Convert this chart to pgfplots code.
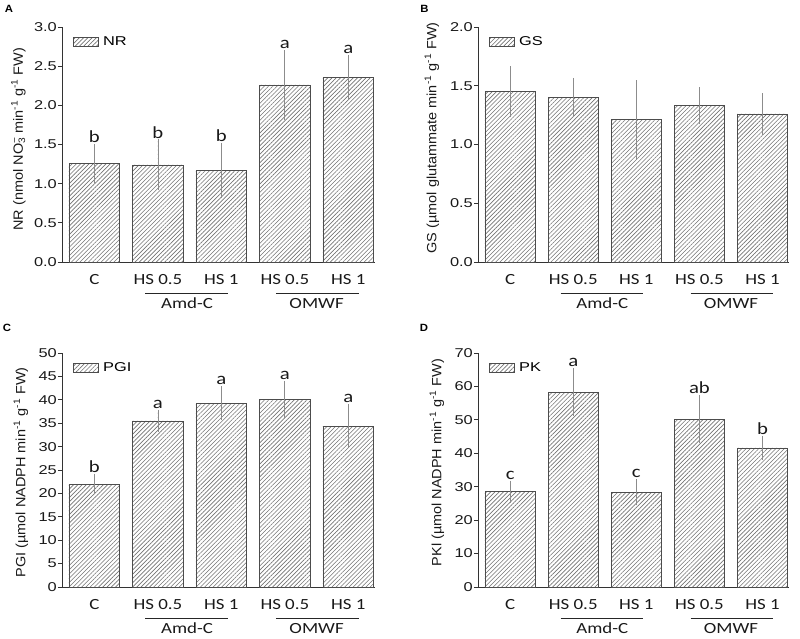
\documentclass[border=0pt]{standalone}
\usepackage{fontspec}
\setmainfont{Liberation Sans}
\newfontfamily\tickfam{Liberation Sans}[FakeStretch=1.28]
\newfontfamily\labfam{Liberation Sans}[FakeStretch=1.08]
\newfontfamily\calfam{Carlito}[FakeStretch=1.22]
\usepackage{pgfplots}
\usepackage{pgfplotstable}
\pgfplotsset{compat=1.18}
\usetikzlibrary{patterns.meta}

\newcommand\tickfont{\tickfam\fontsize{12.8}{14}\selectfont}
\newcommand\legfont{\tickfam\fontsize{12.8}{14}\selectfont}
\newcommand\labfont{\labfam\fontsize{13.4}{15}\selectfont}
\newcommand\catfont{\calfam\fontsize{15.5}{17}\selectfont}
\newcommand\letfont{\calfam\fontsize{17}{19}\selectfont}
\newcommand\panfont{\labfam\bfseries\fontsize{10.5}{12}\selectfont}
\newcommand\mi{\textsuperscript{-1}}

\pgfplotstableread{
x y err lab top
0 1.26 0.22 b 1.48
1 1.24 0.30 b 1.54
2 1.17 0.33 b 1.50
3 2.26 0.42 a 2.68
4 2.36 0.26 a 2.62
}\tabA
\pgfplotstableread{
x y err
0 1.45 0.20
1 1.40 0.15
2 1.21 0.32
3 1.33 0.14
4 1.26 0.16
}\tabB
\pgfplotstableread{
x y err lab top
0 22.0 1.8 b 23.8
1 35.5 1.9 a 37.4
2 39.3 3.2 a 42.5
3 40.1 3.5 a 43.6
4 34.4 4.3 a 38.7
}\tabC
\pgfplotstableread{
x y err lab top
0 28.5 2.7 c 31.2
1 58.3 6.6 a 64.9
2 28.4 3.3 c 31.7
3 50.2 6.6 ab 56.8
4 41.6 3.0 b 44.6
}\tabD

\pgfplotsset{
  panel/.style={
    scale only axis, anchor=south west,
    xmin=-0.51, xmax=4.42, ymin=0,
    axis x line*=bottom, axis y line*=left,
    x axis line style={-}, y axis line style={-},
    axis line style={draw=black!80, line width=0.8pt},
    xtick={0,1,2,3,4}, xticklabels={C,HS 0.5,HS 1,HS 0.5,HS 1},
    xtick align=inside, ytick align=outside,
    major x tick style={draw=none},
    major y tick style={draw=black!80, line width=0.8pt},
    major tick length=4pt,
    x tick label style={font=\catfont, text=black!90, anchor=base, yshift=-22pt},
    y tick label style={font=\tickfont, text=black!90, inner sep=1pt},
    /pgf/number format/assume math mode=true,
    clip=false,
    ylabel style={font=\labfont, text=black!90, anchor=center},
    legend style={at={(axis description cs:0.035,0.965)}, anchor=north west,
      draw=none, fill=none, font=\legfont, inner sep=0pt, outer sep=0pt,
      nodes={inner sep=1.5pt}},
    legend cell align=left,
  },
  hbar/.style={ybar, bar width=0.8, draw=black!70, line width=0.7pt,
    pattern={Lines[angle=45,distance=3pt,line width=0.6pt]}, pattern color=black!55,
    legend image code/.code={\draw[draw=black!70, line width=0.7pt,
      pattern={Lines[angle=45,distance=3pt,line width=0.6pt]}, pattern color=black!55]
      (0pt,-4.5pt) rectangle (25pt,4.5pt);},
    error bars/.cd, y dir=both, y explicit,
    error bar style={draw=black!45, line width=0.7pt},
    error mark options={draw=black!45, line width=0.7pt, mark size=2pt}},
  letters/.style={draw=none, mark=none, forget plot, nodes near coords,
    point meta=explicit symbolic,
    every node near coord/.style={font=\letfont, text=black!90, anchor=south, inner sep=0pt, yshift=3pt}},
}

\newcommand\groups{%
  \draw[black!85, line width=0.9pt] ([yshift=-31pt]axis cs:0.8,0) -- ([yshift=-31pt]axis cs:2.1,0);
  \draw[black!85, line width=0.9pt] ([yshift=-31pt]axis cs:2.86,0) -- ([yshift=-31pt]axis cs:4.17,0);
  \node[font=\catfont, text=black!90, anchor=base] at ([yshift=-46pt]axis cs:1.46,0) {Amd-C};
  \node[font=\catfont, text=black!90, anchor=base] at ([yshift=-46pt]axis cs:3.5,0) {OMWF};
}

\begin{document}
\begin{tikzpicture}
\path[use as bounding box] (0pt,0pt) rectangle (800pt,-639pt);

% Panel A
\begin{axis}[panel, at={(62pt,-262pt)}, width=313pt, height=235pt,
  ymax=3, ytick={0,0.5,1,1.5,2,2.5,3},
  y tick label style={/pgf/number format/.cd, fixed, fixed zerofill, precision=1},
  ylabel={NR (nmol NO\rlap{\textsuperscript{−}}\textsubscript{3}\ min\mi\ g\mi\ FW)},
  ylabel style={at={(axis description cs:-0.139,0.523)}}]
\addplot[hbar] table[x=x, y=y, y error=err] {\tabA};
\addlegendentry{\hspace{3pt}NR}
\addplot[letters] table[x=x, y=top, meta=lab] {\tabA};
\groups
\end{axis}

% Panel B
\begin{axis}[panel, at={(478pt,-262pt)}, width=311pt, height=235pt,
  ymax=2, ytick={0,0.5,1,1.5,2},
  y tick label style={/pgf/number format/.cd, fixed, fixed zerofill, precision=1},
  ylabel={GS (µmol glutammate min\mi\ g\mi\ FW)},
  ylabel style={at={(axis description cs:-0.148,0.528)}}]
\addplot[hbar] table[x=x, y=y, y error=err] {\tabB};
\addlegendentry{\hspace{3pt}GS}
\groups
\end{axis}

% Panel C
\begin{axis}[panel, at={(62pt,-587pt)}, width=313pt, height=234pt,
  ymax=50, ytick={0,5,10,15,20,25,30,35,40,45,50},
  ylabel={PGI (µmol NADPH min\mi\ g\mi\ FW)},
  ylabel style={at={(axis description cs:-0.131,0.49)}}]
\addplot[hbar] table[x=x, y=y, y error=err] {\tabC};
\addlegendentry{\hspace{3pt}PGI}
\addplot[letters] table[x=x, y=top, meta=lab] {\tabC};
\groups
\end{axis}

% Panel D
\begin{axis}[panel, at={(478pt,-587pt)}, width=311pt, height=234pt,
  ymax=70, ytick={0,10,20,30,40,50,60,70},
  ylabel={PKl (µmol NADPH min\mi\ g\mi\ FW)},
  ylabel style={at={(axis description cs:-0.132,0.532)}}]
\addplot[hbar] table[x=x, y=y, y error=err] {\tabD};
\addlegendentry{\hspace{3pt}PK}
\addplot[letters] table[x=x, y=top, meta=lab] {\tabD};
\groups
\end{axis}

\node[font=\panfont] at (9pt,-8.5pt) {A};
\node[font=\panfont] at (424.5pt,-8.5pt) {B};
\node[font=\panfont] at (7pt,-328pt) {C};
\node[font=\panfont] at (424pt,-328pt) {D};
\end{tikzpicture}
\end{document}
